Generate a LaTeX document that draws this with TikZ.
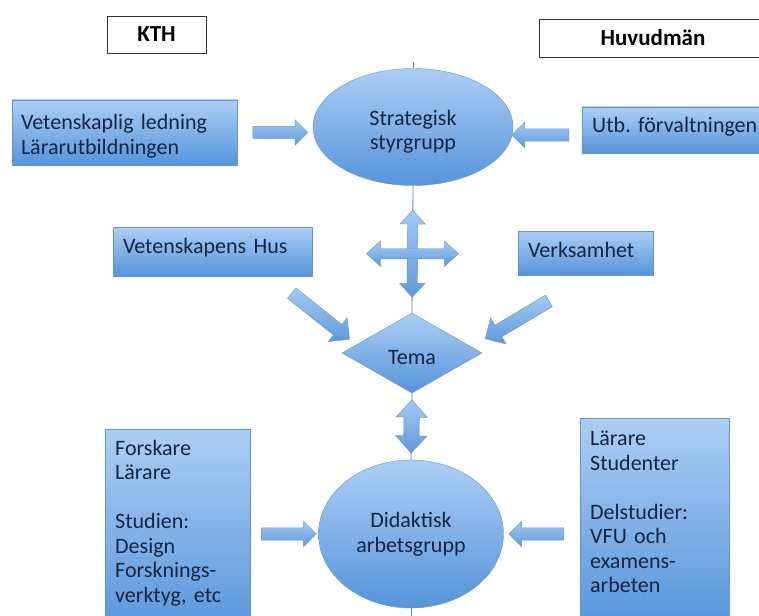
\documentclass[tikz,border=0pt]{standalone}
\usepackage{fontspec}
\setmainfont{Carlito}
\usetikzlibrary{shapes.geometric,shapes.arrows,calc}
\frenchspacing
\definecolor{boxTop}{RGB}{172,206,245}
\definecolor{boxBot}{RGB}{86,148,218}
\definecolor{boxLine}{RGB}{100,150,205}
\definecolor{arrTop}{RGB}{165,202,242}
\definecolor{arrBot}{RGB}{95,153,218}
\definecolor{txtBlue}{RGB}{22,36,66}
\definecolor{stubCol}{RGB}{90,125,170}
\newcommand{\myFont}{\fontsize{22}{24.5}\selectfont}
\newcommand{\myFatArrow}[3]{
\path #1 -- #2 node[#3] {};
}
\tikzset{
	headBox/.style={draw=black!80, line width=0.9pt, fill=white, inner sep=0pt,
		font=\fontsize{23}{26}\selectfont\bfseries},
	blueBox/.style={draw=boxLine, top color=boxTop, bottom color=boxBot, text=txtBlue,
		font=\myFont, align=left, inner xsep=10pt, inner ysep=4pt},
	groupEllipse/.style={ellipse, draw=boxLine, top color=boxTop, bottom color=boxBot,
		text=txtBlue, font=\myFont, align=center, inner sep=0pt},
	temaDiamond/.style={diamond, draw=boxLine, top color=boxTop, bottom color=boxBot,
		text=txtBlue, font=\myFont, inner sep=0pt, minimum width=140pt, minimum height=80pt,
		text height=23pt, text depth=0pt},
	fatArrow/.style={single arrow, draw=boxLine, top color=arrTop, bottom color=arrBot,
		inner xsep=0pt, inner ysep=6pt, single arrow head extend=6.5pt,
		single arrow tip angle=90, sloped, allow upside down},
	fatDouble/.style={double arrow, draw=boxLine, top color=arrTop, bottom color=arrBot,
		inner xsep=0pt, inner ysep=5pt, double arrow head extend=7.5pt,
		double arrow tip angle=85, sloped, allow upside down},
	stubLine/.style={draw=stubCol, line width=0.8pt}
}
\begin{document}
\begin{tikzpicture}[x=1pt,y=-1pt]
	% frame
	\useasboundingbox (0,0) rectangle (759,615);
	\clip (0,0) rectangle (759,615);
	% headings
	\node[headBox, minimum width=99pt, minimum height=37pt] (KTH) at (156.5,34.5) {KTH};
	\node[headBox, minimum width=228pt, minimum height=38pt] (HUV) at (653,38) {Huvudmän};
	% groups
	\node[groupEllipse, minimum width=200pt, minimum height=117pt] (SG) at (413,127) {\rule{0pt}{25pt}Strategisk\\styrgrupp};
	\node[temaDiamond] (T) at (412,353) {Tema};
	\node[groupEllipse, minimum width=185pt, minimum height=148pt] (DG) at (411,534) {Didaktisk\\arbetsgrupp};
	% boxes
	\node[blueBox, text width=207pt, minimum height=65pt, inner xsep=9pt] (VL) at (124.5,132.5) {\rule{0pt}{23pt}Vetenskaplig ledning\\Lärarutbildningen};
	\node[blueBox, anchor=west, text width=200pt, text height=21pt, text depth=17pt] (UT) at (582,130) {Utb. förvaltningen};
	\node[blueBox, text width=179pt, text height=22pt, text depth=19pt] (VH) at (212.5,251.5) {Vetenskapens Hus};
	\node[blueBox, text width=115pt, text height=22pt, text depth=14pt] (VK) at (585.5,253) {Verksamhet};
	\node[blueBox, anchor=north west, text width=125pt, inner ysep=11pt] (FO) at (105,429) {Forskare\\Lärare\\[24.5pt]Studien:\\Design\\Forsknings-\\verktyg, etc\\\mbox{}};
	\node[blueBox, anchor=north west, text width=129pt, inner ysep=13pt] (LA) at (580,418) {Lärare\\Studenter\\[24.5pt]Delstudier:\\VFU och\\examens-\\arbeten\\\mbox{}};
	% connector stubs
	\draw[stubLine] (SG.north) -- ++(0,-6);
	\draw[stubLine] (SG.south) -- (T.north);
	\draw[stubLine] (T.south) -- (DG.north);
	\draw[stubLine] (DG.south) -- ++(0,8);
	% arrows into the groups
	\myFatArrow{(VL.east)}{(VL.east -| SG.west)}{fatArrow, pos=.53, minimum height=55pt}
	\myFatArrow{($(UT.west)+(0,5)$)}{($(SG.east |- UT.west)+(0,5)$)}{fatArrow, pos=.56, minimum height=57pt}
	\myFatArrow{(DG.west -| FO.east)}{(DG.west)}{fatArrow, pos=.52, minimum height=55pt}
	\myFatArrow{(DG.east -| LA.west)}{(DG.east)}{fatArrow, pos=.53, minimum height=55pt}
	% arrows into tema
	\myFatArrow{($(VH.south east)+(-23,15)$)}{($(T.west)+(5,-16)$)}{fatArrow, midway, minimum height=74pt, inner ysep=6.5pt, single arrow head extend=8.5pt}
	\myFatArrow{($(VK.south west)+(34,24)$)}{($(T.east)+(6,-16)$)}{fatArrow, midway, minimum height=74pt, inner ysep=6.5pt, single arrow head extend=8.5pt}
	% cross and double arrow
	\path (SG.south) -- (T.north) node[fatDouble, pos=.535, minimum height=87pt] (CV) {};
	\node[fatDouble, minimum height=92pt] (CH) at (CV) {};
	\path (T.south) -- (DG.north) node[fatDouble, midway, minimum height=53pt, inner ysep=7.5pt, double arrow head extend=8pt] (TD) {};
\end{tikzpicture}
\end{document}
